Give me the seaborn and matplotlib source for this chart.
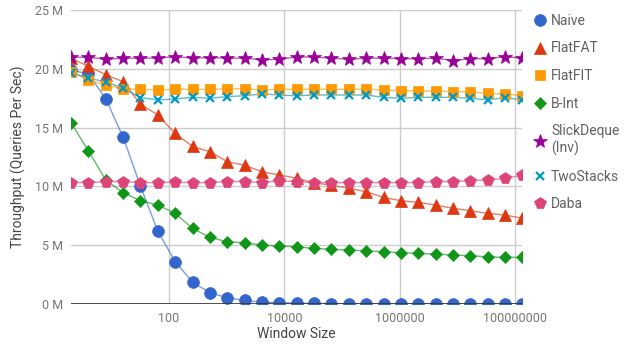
import numpy as np
import pandas as pd
import matplotlib
matplotlib.use("Agg")
import matplotlib.pyplot as plt
import seaborn as sns
from matplotlib.ticker import FixedLocator, FuncFormatter

# window sizes 2^1 .. 2^27
window = [2 ** i for i in range(1, 28)]

naive = [19.9, 19.56, 17.46, 14.2, 10.03, 6.2, 3.6, 1.87, 0.96, 0.54, 0.31, 0.17, 0.12,
         0.08, 0.05, 0.04, 0.03, 0.02, 0.01, 0.01, 0.01, 0.01, 0.01, 0.01, 0.01, 0.01, 0.01]
flatfat = [20.9, 20.2, 19.5, 18.9, 17.0, 16.07, 14.5, 13.4, 12.95, 12.1, 11.8, 11.25, 10.97,
           10.7, 10.3, 10.1, 9.84, 9.55, 9.07, 8.78, 8.65, 8.42, 8.14, 7.93, 7.71, 7.57, 7.29]
flatfit = [19.75, 19.05, 18.6, 18.3, 18.25, 18.2, 18.25, 18.25, 18.25, 18.3, 18.3, 18.2, 18.25,
           18.25, 18.25, 18.25, 18.25, 18.25, 18.2, 18.14, 18.1, 18.1, 18.05, 18.05, 17.9, 17.86, 17.7]
bint = [15.42, 13.04, 10.54, 9.47, 8.79, 8.42, 7.71, 6.44, 5.67, 5.3, 5.21, 5.02, 4.93,
        4.87, 4.73, 4.65, 4.59, 4.53, 4.45, 4.36, 4.31, 4.25, 4.17, 4.11, 4.02, 3.97, 3.97]
slickdeque = [20.98, 20.98, 20.8, 20.9, 20.9, 20.9, 21.03, 20.9, 20.95, 20.9, 20.9, 20.75, 20.8,
              21.0, 21.0, 20.9, 20.8, 20.9, 20.9, 20.85, 20.85, 20.9, 20.7, 20.85, 20.85, 21.03, 20.9]
twostacks = [19.67, 19.19, 18.9, 18.34, 17.55, 17.35, 17.43, 17.57, 17.5, 17.63, 17.71, 17.86, 17.77,
             17.7, 17.77, 17.77, 17.77, 17.77, 17.57, 17.49, 17.57, 17.57, 17.57, 17.49, 17.35, 17.55, 17.35]
daba = [10.32, 10.32, 10.4, 10.4, 10.32, 10.32, 10.35, 10.32, 10.32, 10.4, 10.4, 10.32, 10.49,
        10.4, 10.32, 10.32, 10.32, 10.32, 10.32, 10.32, 10.32, 10.4, 10.4, 10.49, 10.54, 10.68, 10.97]

series = [
    ("Naive", naive, "#3366CC", "o", 8.5),
    ("FlatFAT", flatfat, "#DC3912", "^", 8.5),
    ("FlatFIT", flatfit, "#FF9900", "s", 7),
    ("B-Int", bint, "#109618", "D", 6.5),
    ("SlickDeque\n(Inv)", slickdeque, "#990099", "*", 10),
    ("TwoStacks", twostacks, "#0099C6", "x", 5.5),
    ("Daba", daba, "#DD4477", "p", 8.5),
]

sns.set_theme(style="white")
plt.rcParams['font.family'] = ['Roboto', 'DejaVu Sans']

fig = plt.figure(figsize=(6.28, 3.54), dpi=100)
ax = fig.add_axes([0.113, 0.141, 0.719, 0.831])

for name, vals, color, marker, ms in series:
    df = pd.DataFrame({"Window Size": window, "Throughput": vals})
    sns.lineplot(data=df, x="Window Size", y="Throughput", ax=ax, color=color,
                 linewidth=1.0, alpha=0.65, zorder=2)
    ax.plot(window, vals, linestyle="none", marker=marker, markersize=ms,
            color=color, markeredgecolor=color,
            markeredgewidth=1.6 if marker == "x" else 0.5, zorder=3, label=name)

ax.set_xscale("log")
ax.set_xlim(2, 2 ** 27)
ax.set_ylim(0, 25)
ax.xaxis.set_major_locator(FixedLocator([100, 10000, 1000000, 100000000]))
ax.xaxis.set_minor_locator(FixedLocator([]))
ax.xaxis.set_major_formatter(FuncFormatter(lambda v, p: f"{int(round(v))}"))
ax.set_yticks([0, 5, 10, 15, 20, 25])
ax.yaxis.set_major_formatter(FuncFormatter(lambda v, p: f"{int(v)} M"))

ax.grid(True, color="#cccccc", linewidth=1)
ax.axhline(0, color="#333333", linewidth=1.2, zorder=4)
for s in ax.spines.values():
    s.set_visible(False)
ax.tick_params(axis="both", length=0, labelsize=9, labelcolor="#757575", pad=6)

ax.set_xlabel("Window Size", fontsize=10, color="#444444", labelpad=1)
ax.set_ylabel("Throughput (Queries Per Sec)", fontsize=10, color="#444444", labelpad=6)

leg = ax.legend(loc="upper left", bbox_to_anchor=(1.005, 1.015), frameon=False,
                fontsize=10, labelcolor="#616161", handlelength=1.0, handletextpad=0.3,
                labelspacing=0.98, borderaxespad=0.2)

fig.savefig("out.png", dpi=100)
